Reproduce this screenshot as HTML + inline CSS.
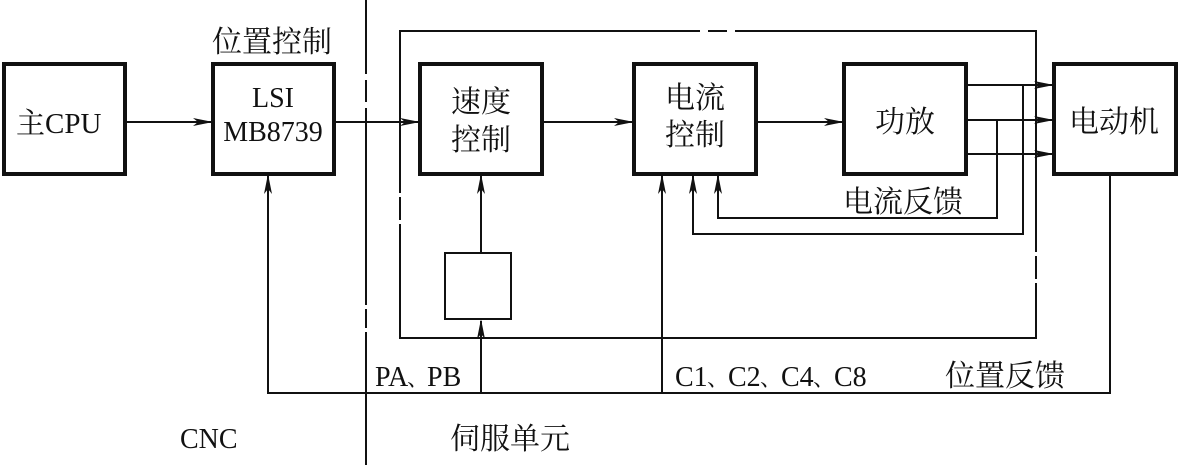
<!DOCTYPE html>
<html><head><meta charset="utf-8"><style>
body{margin:0;background:#fff}
svg text{font-family:"Liberation Serif","Noto Serif CJK SC",serif;fill:#111}
</style></head><body>
<svg width="1178" height="465" viewBox="0 0 1178 465" xmlns="http://www.w3.org/2000/svg">
<defs><marker id="a" markerWidth="20" markerHeight="10" refX="18" refY="5" orient="auto" markerUnits="userSpaceOnUse"><path d="M0,1 L20,5 L0,9 L5,5 Z" fill="#111"/></marker></defs>
<g stroke="#111" fill="none">
<g stroke-width="4">
<rect x="4" y="64" width="121" height="110"/>
<rect x="213" y="64" width="121" height="110"/>
<rect x="420" y="64" width="122" height="110"/>
<rect x="634" y="64" width="122" height="110"/>
<rect x="844" y="64" width="122" height="110"/>
<rect x="1054" y="64" width="122" height="110"/>
</g>
<rect x="445" y="253" width="66" height="66" stroke-width="2"/>
<g stroke-width="2">
<path d="M366,0 V74 M366,80 V102 M366,108 V305 M366,309 V328 M366,332 V465"/>
<path d="M700,31 H400 V193 M400,197 V220 M400,224 V338 H1036 V283 M1036,279 V256 M1036,252 V31 H735 M708,31 H727"/>
<path d="M125,122 H211" marker-end="url(#a)"/>
<path d="M334,122 H418" marker-end="url(#a)"/>
<path d="M542,122 H632" marker-end="url(#a)"/>
<path d="M756,122 H842" marker-end="url(#a)"/>
<path d="M966,85 H1052" marker-end="url(#a)"/>
<path d="M966,120 H1052" marker-end="url(#a)"/>
<path d="M966,154 H1052" marker-end="url(#a)"/>
<path d="M997,120 V218 H718 V176" marker-end="url(#a)"/>
<path d="M1023,85 V234 H693 V176" marker-end="url(#a)"/>
<path d="M481,253 V176" marker-end="url(#a)"/>
<path d="M1110,174 V393 H268 V176" marker-end="url(#a)"/>
<path d="M481,393 V321" marker-end="url(#a)"/>
<path d="M662,393 V176" marker-end="url(#a)"/>
</g>
</g>
<g font-size="28">
<text x="16" y="133" font-size="29">主CPU</text>
<text x="273" y="107" text-anchor="middle">LSI</text>
<text x="273" y="141" text-anchor="middle">MB8739</text>
<text x="212" y="52" font-size="30">位置控制</text>
<text x="481" y="112" text-anchor="middle" font-size="30">速度</text>
<text x="481" y="150" text-anchor="middle" font-size="30">控制</text>
<text x="695" y="108" text-anchor="middle" font-size="30">电流</text>
<text x="695" y="145" text-anchor="middle" font-size="30">控制</text>
<text x="905" y="132" text-anchor="middle" font-size="30">功放</text>
<text x="1114" y="132" text-anchor="middle" font-size="30">电动机</text>
<text x="843" y="212" font-size="30">电流反馈</text>
<text x="375" y="386">PA</text><text x="407" y="386" font-size="22">、</text><text x="427" y="386">PB</text>
<text x="675" y="386">C1</text><text x="707" y="386" font-size="22">、</text>
<text x="728" y="386">C2</text><text x="760" y="386" font-size="22">、</text>
<text x="781" y="386">C4</text><text x="813" y="386" font-size="22">、</text>
<text x="834" y="386">C8</text>
<text x="945" y="386" font-size="30">位置反馈</text>
<text x="180" y="448">CNC</text>
<text x="450" y="449" font-size="30">伺服单元</text>
</g>
</svg>
</body></html>
